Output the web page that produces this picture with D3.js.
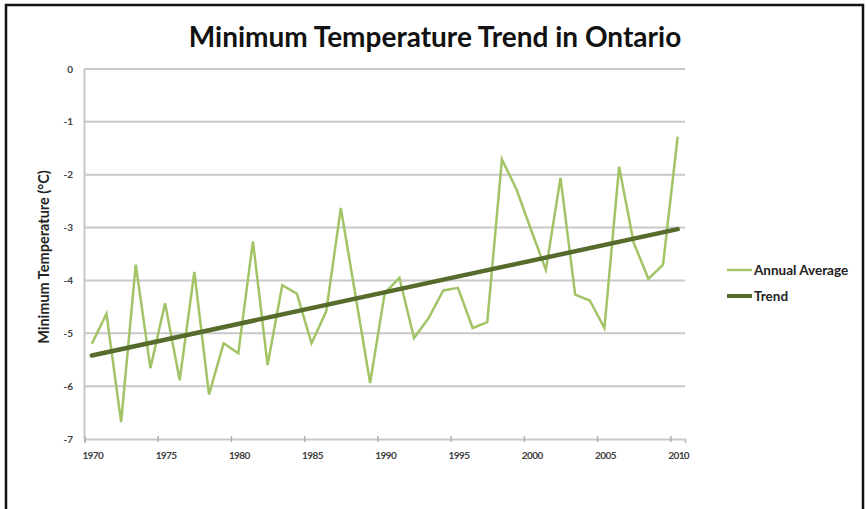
<!DOCTYPE html>
<html>
<head>
<meta charset="utf-8">
<script src="https://cdn.jsdelivr.net/npm/d3@7"></script>
<style>
    body { margin: 0; background: #fff; }
    svg { display: block; }
    .tick-label { font-family: Lato, "Open Sans", sans-serif; font-weight: bold; fill: #404040; }
</style>
</head>
<body>
<div id="chart"></div>
<script>
// annual average minimum temperature, one value per year 1970..2010
const years = d3.range(1970, 2011)
const annualAverage = [
    -5.2, -4.63, -6.68, -3.7, -5.66, -4.43, -5.89, -3.84, -6.16, -5.19,
    -5.38, -3.26, -5.6, -4.09, -4.25, -5.19, -4.59, -2.63, -4.28, -5.94,
    -4.24, -3.95, -5.09, -4.71, -4.19, -4.14, -4.9, -4.79, -1.71, -2.28,
    -3.05, -3.8, -2.06, -4.27, -4.38, -4.9, -1.85, -3.29, -3.97, -3.7,
    -1.28
]
const trendYears = [1970, 2010]
const trendValues = [-5.42, -3.03]

const yTicks = [0, -1, -2, -3, -4, -5, -6, -7]
const xLabels = [1970, 1975, 1980, 1985, 1990, 1995, 2000, 2005, 2010]
const legendNames = ["Annual Average", "Trend"]

const W = 866, H = 509
const plot = {left: 84.5, right: 685, top: 69, bottom: 439}

const svg = d3.select("#chart").append("svg")
    .attr("width", W)
    .attr("height", H)

// outer frame
svg.append("rect")
    .attr("x", 6).attr("y", 5)
    .attr("width", 857).attr("height", 520)
    .attr("fill", "none")
    .attr("stroke", "#111")
    .attr("stroke-width", 2.5)

const x = d3.scaleLinear().domain([1969.5, 2010.5]).range([plot.left, plot.right])
const y = d3.scaleLinear().domain([-7, 0]).range([plot.bottom, plot.top])

// gridlines
svg.append("g")
    .selectAll("line")
    .data(yTicks.filter(d => d > -7))
    .join("line")
    .attr("x1", plot.left).attr("x2", plot.right)
    .attr("y1", d => y(d)).attr("y2", d => y(d))
    .attr("stroke", "#c8c8c8")
    .attr("stroke-width", 2)

// y axis labels
svg.append("g")
    .selectAll("text")
    .data(yTicks)
    .join("text")
    .attr("class", "tick-label")
    .attr("x", 73)
    .attr("y", d => y(d) + 3.5)
    .attr("text-anchor", "end")
    .attr("font-size", 10)
    .text(d => d === 0 ? "0" : "-" + Math.abs(d))

// axis lines
svg.append("line")
    .attr("x1", plot.left).attr("x2", plot.left)
    .attr("y1", plot.top).attr("y2", plot.bottom)
    .attr("stroke", "#c8c8c8").attr("stroke-width", 2)

const xAxis = d3.axisBottom(x)
    .tickValues(d3.range(1969.5, 2011, 5))
    .tickSize(4)
    .tickFormat("")

const gx = svg.append("g")
    .attr("transform", "translate(0," + plot.bottom + ")")
    .call(xAxis)
gx.select(".domain").attr("stroke", "#c8c8c8").attr("stroke-width", 2)
gx.selectAll(".tick line").attr("stroke", "#b0b0b0").attr("stroke-width", 1.5)
    .attr("y1", -3).attr("y2", 3)

svg.append("g")
    .selectAll("text")
    .data(xLabels)
    .join("text")
    .attr("class", "tick-label")
    .attr("x", d => x(d) + 1)
    .attr("y", 459)
    .attr("text-anchor", "middle")
    .attr("font-size", 10)
    .attr("letter-spacing", -0.6)
    .text(d => d)

// annual series
const line = d3.line()
    .x(d => x(d[0]))
    .y(d => y(d[1]))

svg.append("path")
    .datum(d3.zip(years, annualAverage))
    .attr("d", line)
    .attr("fill", "none")
    .attr("stroke", "#a2c466")
    .attr("stroke-width", 2.5)
    .attr("stroke-linejoin", "miter")

svg.append("path")
    .datum(d3.zip(trendYears, trendValues))
    .attr("d", line)
    .attr("fill", "none")
    .attr("stroke", "#566b2c")
    .attr("stroke-width", 4.5)
    .attr("stroke-linecap", "round")

// title
svg.append("text")
    .attr("x", 435)
    .attr("y", 47)
    .attr("text-anchor", "middle")
    .attr("font-family", "Lato, 'Open Sans', sans-serif")
    .attr("font-weight", "bold")
    .attr("font-size", 28)
    .attr("fill", "#111")
    .text("Minimum Temperature Trend in Ontario")

// y axis title
svg.append("text")
    .attr("transform", "translate(49,257) rotate(-90)")
    .attr("text-anchor", "middle")
    .attr("font-family", "Lato, 'Open Sans', sans-serif")
    .attr("font-weight", "bold")
    .attr("font-size", 14.5)
    .attr("fill", "#222")
    .text("Minimum Temperature (°C)")

// legend
const legendColors = ["#a2c466", "#566b2c"]
const legendWidths = [2.5, 4]
const legend = svg.append("g")
    .selectAll("g")
    .data(legendNames)
    .join("g")
    .attr("transform", (d, i) => "translate(727," + (270 + i * 26) + ")")

legend.append("line")
    .attr("x1", 0).attr("x2", 25)
    .attr("stroke", (d, i) => legendColors[i])
    .attr("stroke-width", (d, i) => legendWidths[i])

legend.append("text")
    .attr("x", 27)
    .attr("y", 4.5)
    .attr("font-family", "Lato, 'Open Sans', sans-serif")
    .attr("font-weight", "bold")
    .attr("font-size", 13.5)
    .attr("fill", "#222")
    .text(d => d)
</script>
</body>
</html>
